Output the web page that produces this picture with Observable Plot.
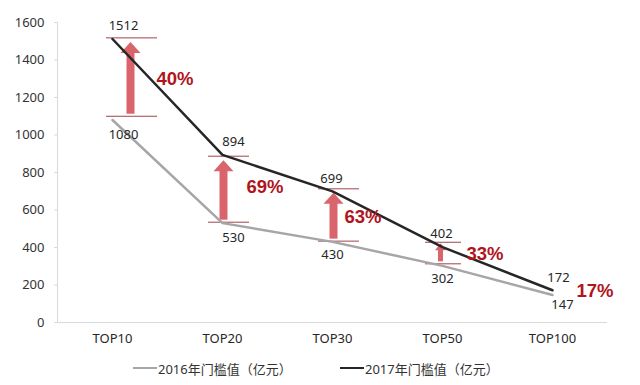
<!DOCTYPE html>
<html>
<head>
<meta charset="utf-8">
<script src="https://cdn.jsdelivr.net/npm/d3@7"></script>
<script src="https://cdn.jsdelivr.net/npm/@observablehq/plot@0.6"></script>
<style>
  body { margin: 0; background: #fff; font-family: "Noto Sans", "Noto Sans CJK SC", sans-serif; }
  #chart { width: 640px; }
  #legend { position: relative; width: 640px; height: 33px; }
  .item { position: absolute; top: 8px; height: 16px; display: flex; align-items: center; font-size: 13px; color: #333; white-space: nowrap; }
  .swatch { display: inline-block; width: 24px; height: 0; margin-right: 1px; }
</style>
</head>
<body>
<div id="chart"></div>
<div id="legend"></div>
<script>
// ---- data ----
const categories = ["TOP10", "TOP20", "TOP30", "TOP50", "TOP100"];
const values2016 = [1080, 530, 430, 302, 147];
const values2017 = [1512, 894, 699, 402, 172];
const growthLabels = ["40%", "69%", "63%", "33%", "17%"];
// annotation brackets / arrows
const arrowCategories = ["TOP10", "TOP20", "TOP30", "TOP50"];
const arrowLow = [1100, 535, 434, 313];
const arrowHigh = [1518, 887, 713, 428];
const yTicks = [0, 200, 400, 600, 800, 1000, 1200, 1400, 1600];
const seriesNames = ["2016年门槛值（亿元）", "2017年门槛值（亿元）"];

// ---- styles ----
const gray = "#a6a6a6";
const dark = "#262626";
const arrowColor = "#d9646c";
const bracketColor = "#a2434b";
const pctColor = "#b0151e";
const font = '"Noto Sans", "Noto Sans CJK SC", sans-serif';

const rows = categories.map((cat, i) => ({cat, v16: values2016[i], v17: values2017[i], g: growthLabels[i], mid: (values2016[i] + values2017[i]) / 2}));
const arrows = arrowCategories.map((cat, i) => ({cat, lo: arrowLow[i], hi: arrowHigh[i]}));

function headSymbol(w, h, gap) {
  return {draw(ctx) { ctx.moveTo(0, gap); ctx.lineTo(w / 2, gap + h); ctx.lineTo(-w / 2, gap + h); ctx.closePath(); }};
}
function arrowMarks(filter, {dx = 0, shaft = 8, headW = 20, headH = 11, gap = 4, bl = -15, br = -26}) {
  return [
    Plot.ruleY(arrows, {filter, x1: "cat", x2: "cat", y: "hi", dx, insetLeft: bl, insetRight: br, stroke: bracketColor, strokeWidth: 1}),
    Plot.ruleY(arrows, {filter, x1: "cat", x2: "cat", y: "lo", dx, insetLeft: bl, insetRight: br, stroke: bracketColor, strokeWidth: 1}),
    Plot.ruleX(arrows, {filter, x: "cat", y1: "hi", y2: "lo", dx, stroke: arrowColor, strokeWidth: shaft, insetTop: gap + headH - 1, insetBottom: 2}),
    Plot.dot(arrows, {filter, x: "cat", y: "hi", dx, symbol: headSymbol(headW, headH, gap), fill: arrowColor, stroke: null})
  ];
}
const is = (...c) => d => c.includes(d.cat);
const t17 = d => String(d.v17);
const t16 = d => String(d.v16);
const valueStyle = {fill: "#262626", fontSize: 13};
const pctStyle = {textAnchor: "start", fill: pctColor, fontSize: 18.5, fontWeight: "bold", fontFamily: '"Liberation Sans", Arial, sans-serif'};

const chart = Plot.plot({
  width: 640,
  height: 352,
  marginTop: 22,
  marginBottom: 30,
  marginLeft: 57,
  marginRight: 33,
  style: {fontFamily: font, fontSize: "13px", background: "#fff"},
  x: {type: "point", domain: categories, padding: 0.5, label: null},
  y: {domain: [0, 1600], label: null},
  marks: [
    Plot.ruleY([0], {stroke: "#d9d9d9"}),
    Plot.ruleX(["TOP10"], {dx: -55, y1: 0, y2: 1600, stroke: "#d9d9d9"}),
    Plot.axisY({ticks: yTicks, tickFormat: d3.format("d"), tickSize: 3, tickPadding: 10, stroke: "#d9d9d9", fill: "#333", label: null, fontSize: 13}),
    Plot.axisX({tickSize: 0, tickPadding: 11, fill: "#262626", label: null, fontSize: 13}),
    ...arrowMarks(is("TOP10"), {dx: 18, bl: -24, br: -27}),
    ...arrowMarks(is("TOP20", "TOP30"), {dx: 1}),
    ...arrowMarks(is("TOP50"), {dx: -2, shaft: 5, headW: 11, headH: 7, gap: 1, bl: -15, br: -21}),
    Plot.line(rows, {x: "cat", y: "v16", stroke: gray, strokeWidth: 2.5}),
    Plot.line(rows, {x: "cat", y: "v17", stroke: dark, strokeWidth: 2.5}),
    // value labels 2017 (above)
    Plot.text(rows, {filter: is("TOP10", "TOP20"), x: "cat", y: "v17", text: t17, dx: 11, dy: -13, ...valueStyle}),
    Plot.text(rows, {filter: is("TOP30", "TOP50"), x: "cat", y: "v17", text: t17, dx: -1, dy: -13, ...valueStyle}),
    Plot.text(rows, {filter: is("TOP100"), x: "cat", y: "v17", text: t17, dx: 6, dy: -12, ...valueStyle}),
    // value labels 2016 (below)
    Plot.text(rows, {filter: is("TOP10", "TOP20"), x: "cat", y: "v16", text: t16, dx: 11, dy: 15, ...valueStyle}),
    Plot.text(rows, {filter: is("TOP30", "TOP50"), x: "cat", y: "v16", text: t16, dx: 0, dy: 13, ...valueStyle}),
    Plot.text(rows, {filter: is("TOP100"), x: "cat", y: "v16", text: t16, dx: 10, dy: 10, ...valueStyle}),
    // growth labels
    Plot.text(rows, {filter: is("TOP10"), x: "cat", y: "mid", text: "g", dx: 44, ...pctStyle}),
    Plot.text(rows, {filter: is("TOP30"), x: "cat", y: "mid", text: "g", dx: 12, ...pctStyle}),
    Plot.text(rows, {filter: is("TOP20", "TOP50", "TOP100"), x: "cat", y: "mid", text: "g", dx: 24, dy: -2, ...pctStyle})
  ]
});
document.getElementById("chart").append(chart);

// legend
const legend = document.getElementById("legend");
const legendLeft = [133, 340];
const legendColors = [gray, dark];
seriesNames.forEach((name, i) => {
  const item = document.createElement("div");
  item.className = "item";
  item.style.left = legendLeft[i] + "px";
  const sw = document.createElement("span");
  sw.className = "swatch";
  sw.style.borderTop = `2.5px solid ${legendColors[i]}`;
  const label = document.createElement("span");
  label.textContent = name;
  item.append(sw, label);
  legend.append(item);
});
</script>
</body>
</html>
